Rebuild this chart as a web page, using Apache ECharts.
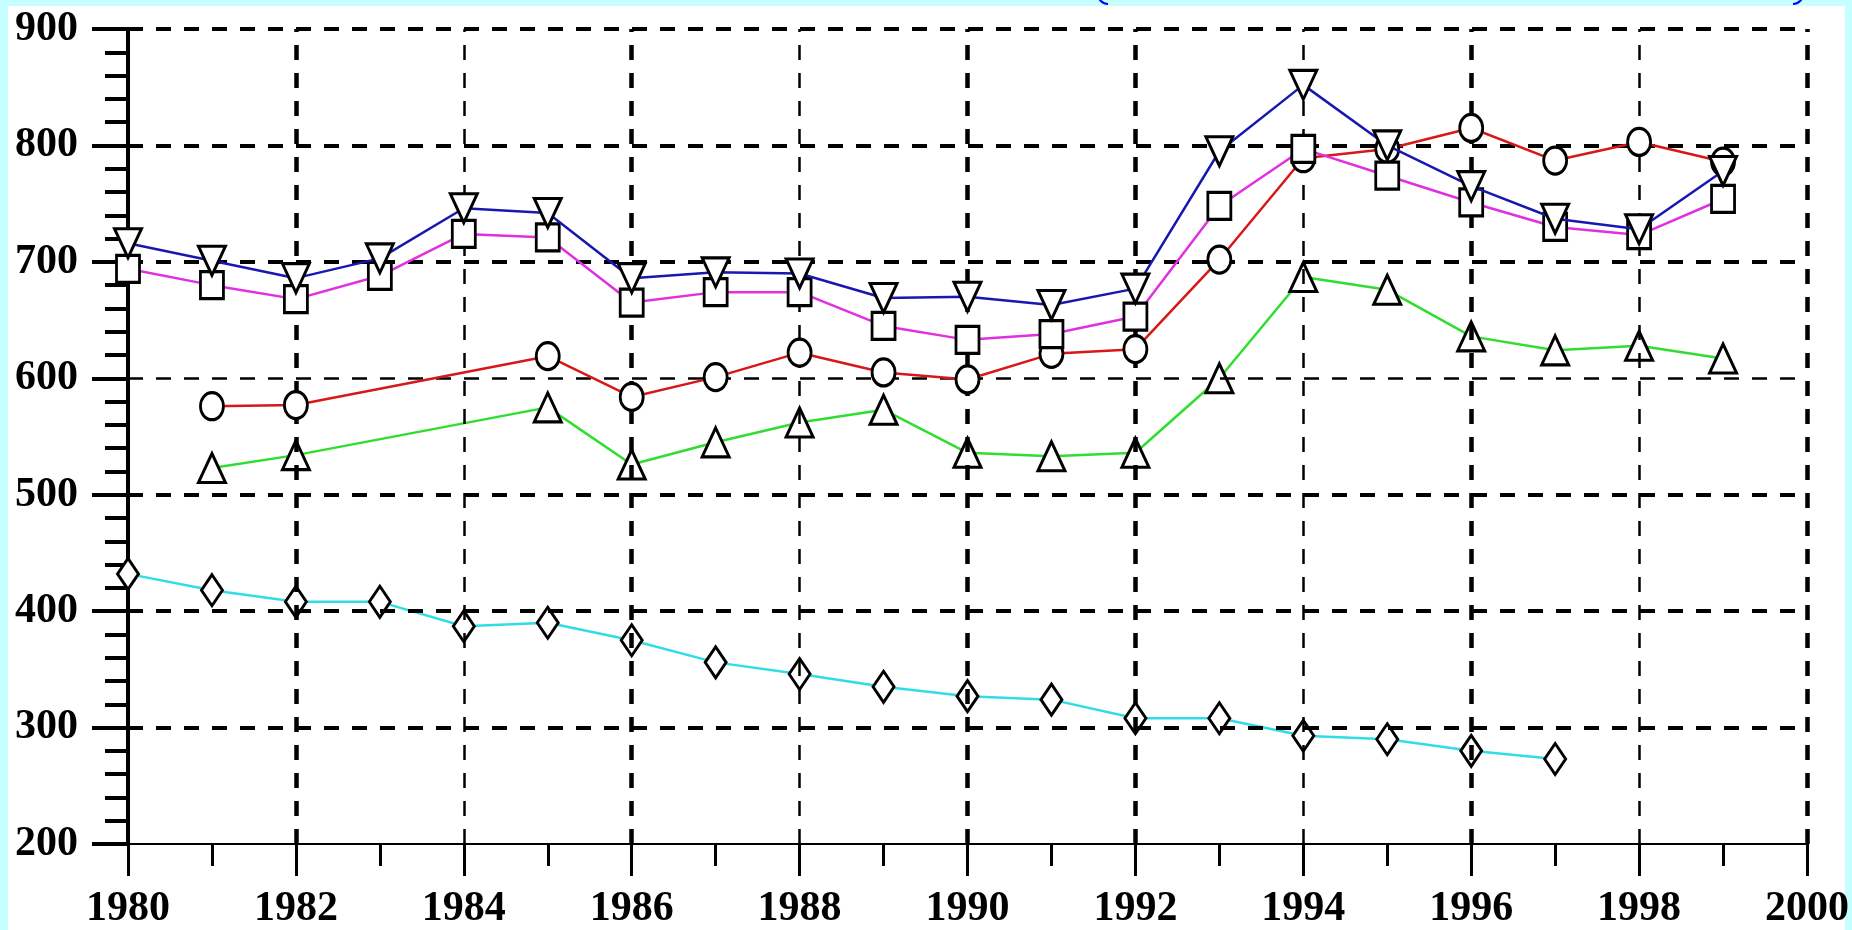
<!DOCTYPE html>
<html><head><meta charset="utf-8">
<script src="https://cdn.jsdelivr.net/npm/echarts@6/dist/echarts.min.js"></script>
<style>
html,body{margin:0;padding:0;background:#c6ffff;overflow:hidden}
#bg{position:absolute;left:8px;top:6px;width:1837px;height:924px;background:#fff}
#c{position:absolute;left:0;top:0;width:1852px;height:930px}
</style>
</head><body><div id="bg"></div><div id="c"></div>
<script>
const years = [1980,1981,1982,1983,1984,1985,1986,1987,1988,1989,1990,1991,1992,1993,1994,1995,1996,1997,1998,1999];
const blueVals    = [716,701,686,703,746,742,686,691,690,669,670,663,677,795,852,800,765,737,728,778];
const magentaVals = [694,680,668,688,724,721,665,674,674,645,633,638,653,748,797,774,751,730,723,754];
const redVals     = [null,576,577,null,null,619,584,601,622,605,599,621,625,702,789,797,815,787,803,786];
const greenVals   = [null,523,534,null,null,575,526,545,562,573,536,533,536,600,687,676,636,624,628,617];
const cyanVals    = [432,418,408,408,387,390,375,356,346,335,327,324,308,308,293,290,280,273,null,null];
const yGridValues = [300,400,500,600,700,800,900];
const yThinGrid   = [600];
const xGridValues = [1982,1984,1986,1988,1990,1992,1994,1996,1998,2000];
const xThinGrid   = [1984,1988,1994,1998];

const pairs = vals => years.map((y,i)=>[y, vals[i]]);
const labelFont = {fontFamily:'"Liberation Serif", "DejaVu Serif", serif', fontWeight:'bold', fontSize:42, color:'#000'};

function mk(name, vals, color, symbol, size, rotate, z){
  return {
    name, type:'line', data:pairs(vals), connectNulls:true, z,
    symbol, symbolSize:size, symbolRotate:rotate||0, showAllSymbol:true,
    lineStyle:{color, width:2.5},
    itemStyle:{color:'#fff', borderColor:'#000', borderWidth:3},
    animation:false
  };
}

const gridLines = [];
yGridValues.forEach(v=>gridLines.push({yAxis:v, lineStyle:{width: yThinGrid.includes(v)?2.5:4}}));
xGridValues.forEach(v=>gridLines.push({xAxis:v, lineStyle:{width: xThinGrid.includes(v)?2.5:4.5}}));

const chart = echarts.init(document.getElementById('c'), null, {renderer:'canvas'});
chart.setOption({
  animation:false,
  grid:{left:128, right:42, top:29, bottom:85, containLabel:false},
  xAxis:{
    type:'value', min:1980, max:2000, interval:2,
    axisLine:{show:true, onZero:false, lineStyle:{color:'#000', width:2}},
    axisTick:{show:true, length:32, lineStyle:{color:'#000', width:3}},
    minorTick:{show:true, splitNumber:2, length:22, lineStyle:{color:'#000', width:3}},
    splitLine:{show:false},
    axisLabel:Object.assign({margin:44, formatter:v=>String(v)}, labelFont)
  },
  yAxis:{
    type:'value', min:200, max:900, interval:100,
    axisLine:{show:true, lineStyle:{color:'#000', width:4}},
    axisTick:{show:true, length:36, lineStyle:{color:'#000', width:4}},
    minorTick:{show:true, splitNumber:5, length:23, lineStyle:{color:'#000', width:4}},
    splitLine:{show:false},
    axisLabel:Object.assign({margin:50}, labelFont)
  },
  graphic:[
    {type:'arc', shape:{cx:1108, cy:-6, r:10, startAngle:Math.PI/2, endAngle:Math.PI}, style:{stroke:'#0000ff', lineWidth:2, fill:null}},
    {type:'arc', shape:{cx:1793, cy:-6, r:10, startAngle:0, endAngle:Math.PI/2}, style:{stroke:'#0000ff', lineWidth:2, fill:null}}
  ],
  series:[
    {type:'line', data:[], z:1, silent:true,
     markLine:{silent:true, symbol:['none','none'], label:{show:false}, animation:false,
       lineStyle:{color:'#000', type:[15,13], width:4}, data:gridLines}},
    mk('cyan', cyanVals, '#30dde6', 'diamond', [21,31], 0, 3),
    mk('green', greenVals, '#30dd30', 'triangle', [27,29], 0, 4),
    mk('red', redVals, '#d81818', 'circle', [23,27], 0, 5),
    mk('magenta', magentaVals, '#e030e0', 'rect', [23,27], 0, 6),
    mk('blue', blueVals, '#1818b0', 'triangle', [27,29], 180, 7)
  ]
});
</script>
</body></html>
